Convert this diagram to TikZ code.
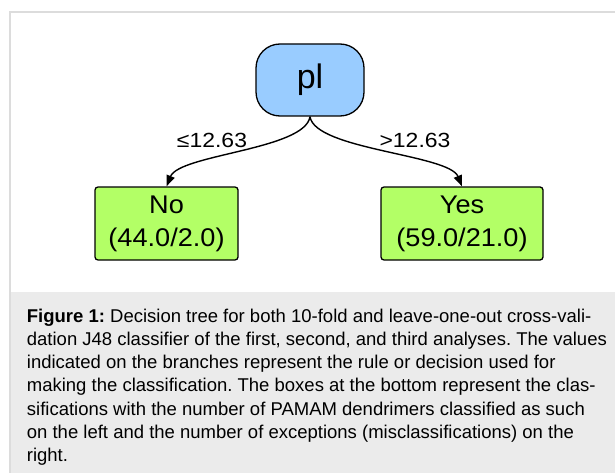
\documentclass[tikz,border=0pt]{standalone}
\usepackage{fontspec}
\setmainfont{Liberation Sans}
\newfontfamily\lblfont[FakeStretch=1.12]{Liberation Sans}
\newfontfamily\boxfont[FakeStretch=1.06]{Liberation Sans}
\usetikzlibrary{arrows.meta}
\frenchspacing
\definecolor{rootblue}{HTML}{99CCFF}
\definecolor{leafgreen}{HTML}{B3FF66}
\definecolor{framegray}{HTML}{DCDCDC}
\definecolor{capgray}{HTML}{EBEBEB}
\tikzset{
  rootnode/.style={draw=black, line width=1.3pt, fill=rootblue, rounded corners=24pt,
    minimum width=108pt, minimum height=72pt, inner sep=0pt,
    font=\fontsize{34}{40}\selectfont},
  leafnode/.style={draw=black, line width=1.3pt, fill=leafgreen, rounded corners=3pt,
    minimum height=73pt, inner sep=0pt, align=center,
    font=\boxfont\fontsize{25.6}{33.3}\selectfont},
  edgelbl/.style={anchor=base, inner sep=0pt, font=\lblfont\fontsize{20.5}{24}\selectfont},
  treeedge/.style={line width=1.4pt, -{Triangle[length=11pt,width=8.5pt]}},
  capline/.style={anchor=base west, inner sep=0pt, font=\frenchspacing\fontsize{18.5}{23.3}\selectfont}
}
\begin{document}
\begin{tikzpicture}[x=1pt,y=-1pt]
\useasboundingbox (0,0) rectangle (615,473);
\fill[capgray] (10,292) rectangle (615,473);
\draw[framegray, line width=1.2pt] (10,473) -- (10,12) -- (615,12);

\node[rootnode] (pl) at (310,80) {pl};
\node[leafnode, minimum width=143pt] (no) at (166.5,223.5) {No\\(44.0/2.0)};
\node[leafnode, minimum width=162pt] (yes) at (462,223.5) {Yes\\(59.0/21.0)};

\draw[treeedge] (pl.south) .. controls +(-5,33) and +(13,-32) .. (no.north);
\draw[treeedge] (pl.south) .. controls +(5,33) and +(-13,-32) .. (yes.north);

\node[edgelbl] (le) at (212,147.3) {≤12.63};
\node[edgelbl] (gt) at (415,147.3) {>12.63};

\node[capline] (c1) at (26.7,322.3) {\textbf{Figure 1:} Decision tree for both 10-fold and leave-one-out cross-vali-};
\node[capline] (c2) at (26.7,345.4) {dation J48 classifier of the first, second, and third analyses. The values};
\node[capline] (c3) at (26.7,368.6) {indicated on the branches represent the rule or decision used for};
\node[capline] (c4) at (26.7,391.9) {making the classification. The boxes at the bottom represent the clas-};
\node[capline] (c5) at (26.7,415.2) {sifications with the number of PAMAM dendrimers classified as such};
\node[capline] (c6) at (26.7,438.5) {on the left and the number of exceptions (misclassifications) on the};
\node[capline] (c7) at (26.7,461.8) {right.};
\end{tikzpicture}
\end{document}
